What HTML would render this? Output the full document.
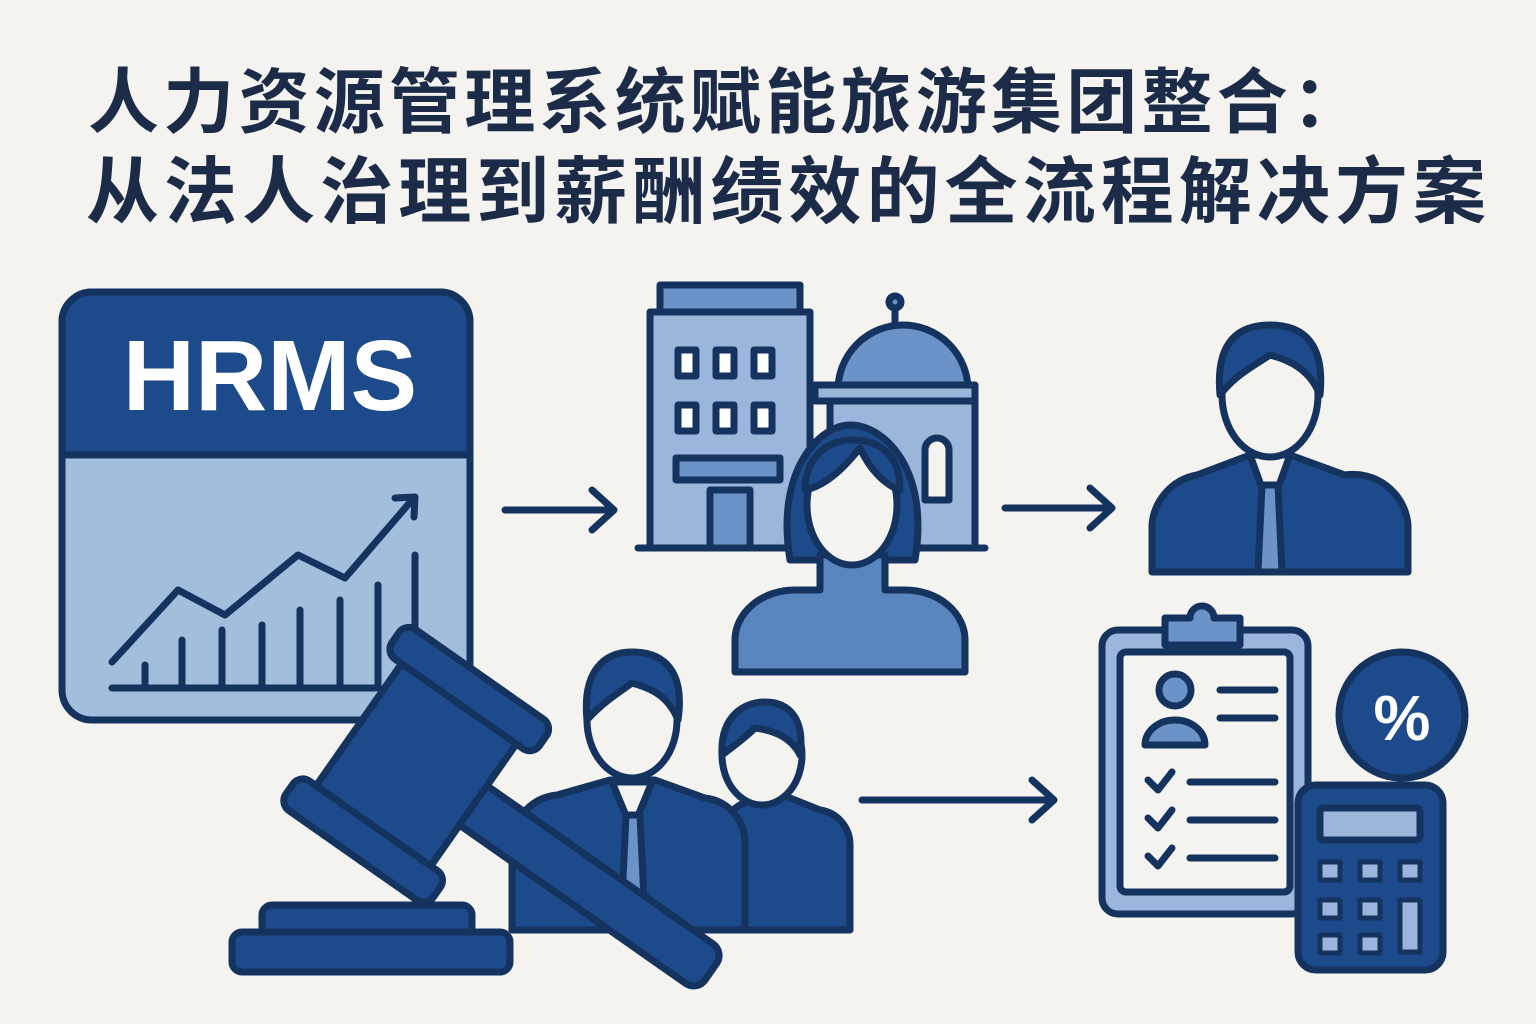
<!DOCTYPE html>
<html><head><meta charset="utf-8"><style>
html,body{margin:0;padding:0;background:#f4f3ef;}
svg{display:block}
text{font-family:"Liberation Sans","Noto Sans CJK SC",sans-serif;}
</style></head><body>
<svg width="1536" height="1024" viewBox="0 0 1536 1024" xmlns="http://www.w3.org/2000/svg">
<rect width="1536" height="1024" fill="#f4f3ef"/>
<text x="88" y="127" font-size="71" font-weight="bold" fill="#1c2b48" style="font-family:'Noto Sans CJK SC',sans-serif" textLength="1275">人力资源管理系统赋能旅游集团整合：</text>
<text x="86" y="217" font-size="73" font-weight="bold" fill="#1c2b48" style="font-family:'Noto Sans CJK SC',sans-serif" textLength="1400">从法人治理到薪酬绩效的全流程解决方案</text>

<g stroke="#15335f" stroke-width="7" stroke-linejoin="round" stroke-linecap="round">
<rect x="62" y="292" width="408" height="428" rx="30" fill="#a3bddc"/>
<path d="M62 455 V322 a30 30 0 0 1 30 -30 H440 a30 30 0 0 1 30 30 V455 Z" fill="#1d4a8a"/>
<path d="M112 662 L178 590 L225 615 L298 555 L345 578 L412 500" fill="none"/>
<path d="M395 498 L415 497 L414 517" fill="none"/>
<path d="M112 688 H375 M145 688 V665 M182 688 V640 M222 688 V630 M262 688 V625 M300 688 V610 M340 688 V600 M378 688 V585 M415 688 V555" fill="none"/>
<path d="M505 510 H612 M592 490 L614 510 L592 530" fill="none"/>
<path d="M1005 508 H1110 M1090 488 L1112 508 L1090 528" fill="none"/>
<path d="M862 800 H1052 M1032 780 L1054 800 L1032 820" fill="none"/>
<rect x="660" y="285" width="140" height="30" fill="#6b93c8"/>
<rect x="650" y="312" width="160" height="236" fill="#9bb6da"/>
<rect x="830" y="395" width="145" height="153" fill="#9bb6da"/>
<path d="M895 322 V305" fill="none"/>
<circle cx="895" cy="302" r="6" fill="#6b93c8"/>
<path d="M838 390 a65 65 0 0 1 130 0 Z" fill="#6b93c8"/>
<rect x="815" y="385" width="160" height="16" fill="#9bb6da"/>
<rect x="678" y="350" width="18" height="26" fill="#fff"/><rect x="716" y="350" width="18" height="26" fill="#fff"/><rect x="754" y="350" width="18" height="26" fill="#fff"/>
<rect x="678" y="405" width="18" height="26" fill="#fff"/><rect x="716" y="405" width="18" height="26" fill="#fff"/><rect x="754" y="405" width="18" height="26" fill="#fff"/>
<rect x="676" y="458" width="104" height="22" fill="#6b93c8"/>
<rect x="710" y="490" width="40" height="58" fill="#6b93c8"/>
<path d="M925 450 a12 12 0 0 1 24 0 V500 H925 Z" fill="#f4f3ef"/>
<path d="M638 548 H985"/>
<!-- woman -->
<path d="M790 560 C775 470 820 425 850 425 C885 425 930 470 915 560 Z" fill="#1d4a8a"/>
<path d="M735 672 V640 a60 50 0 0 1 60 -50 H820 V555 H885 V590 H905 a60 50 0 0 1 60 50 V672 Z" fill="#5a86c0"/>
<ellipse cx="852" cy="505" rx="45" ry="60" fill="#f4f3ef"/>
<path d="M805 490 C830 485 850 460 860 448 C870 470 885 485 900 490 C900 455 880 440 852 440 C825 440 805 460 805 490Z" fill="#1d4a8a"/>
<!-- man top right -->
<path d="M1152 572 V525 a55 55 0 0 1 45 -50 L1250 455 H1290 L1345 475 a55 55 0 0 1 63 50 V572 Z" fill="#1d4a8a"/>
<path d="M1250 455 L1270 510 L1290 455 Z" fill="#f4f3ef"/>
<path d="M1262 485 L1278 485 L1282 572 L1258 572 Z" fill="#6b93c8"/>
<ellipse cx="1270" cy="395" rx="48" ry="62" fill="#f4f3ef"/>
<path d="M1220 395 C1215 340 1240 325 1270 325 C1305 325 1325 345 1320 395 C1310 370 1290 360 1270 355 C1255 365 1235 375 1220 395Z" fill="#1d4a8a"/>
<!-- two men -->
<path d="M720 930 V840 a40 40 0 0 1 35 -40 L770 790 L820 810 a35 35 0 0 1 30 35 V930 Z" fill="#1d4a8a"/>
<ellipse cx="762" cy="755" rx="40" ry="50" fill="#f4f3ef"/>
<path d="M722 755 C720 715 745 702 765 702 C790 702 805 720 800 755 C790 735 770 730 755 728 C745 738 735 745 722 755Z" fill="#1d4a8a"/>
<path d="M512 930 V840 a50 50 0 0 1 45 -45 L610 780 H655 L705 798 a45 45 0 0 1 40 45 V930 Z" fill="#1d4a8a"/>
<path d="M612 782 L632 830 L652 782 Z" fill="#f4f3ef"/>
<path d="M626 815 H640 L644 900 H622 Z" fill="#6b93c8"/>
<ellipse cx="632" cy="720" rx="45" ry="58" fill="#f4f3ef"/>
<path d="M587 720 C582 670 605 652 632 652 C665 652 685 672 678 720 C668 695 650 688 632 683 C615 695 600 705 587 720Z" fill="#1d4a8a"/>
<!-- gavel -->
<rect x="262" y="905" width="210" height="32" rx="10" fill="#1d4a8a"/>
<rect x="232" y="932" width="278" height="40" rx="10" fill="#1d4a8a"/>
<g transform="rotate(35 430 780)">
<rect x="470" y="752" width="300" height="48" rx="14" fill="#1d4a8a"/>
<rect x="340" y="680" width="140" height="190" rx="14" fill="#1d4a8a"/>
<rect x="320" y="665" width="180" height="36" rx="12" fill="#1d4a8a"/>
<rect x="320" y="850" width="180" height="36" rx="12" fill="#1d4a8a"/>
</g>
<!-- clipboard -->
<rect x="1102" y="630" width="206" height="284" rx="16" fill="#9bb6da"/>
<rect x="1120" y="652" width="170" height="240" rx="6" fill="#f4f3ef"/>
<path d="M1165 630 V618 H1190 a12 12 0 0 1 24 0 H1240 V645 H1165Z" fill="#6b93c8"/>
<circle cx="1175" cy="690" r="16" fill="#6b93c8"/>
<path d="M1145 745 a30 25 0 0 1 60 0 Z" fill="#6b93c8"/>
<path d="M1220 690 H1275 M1220 718 H1275 M1190 782 H1275 M1190 820 H1275 M1190 858 H1275 M1148 780 L1158 790 L1172 772 M1148 818 L1158 828 L1172 810 M1148 856 L1158 866 L1172 848" fill="none"/>
<circle cx="1402" cy="715" r="63" fill="#1d4a8a"/>
<rect x="1298" y="785" width="145" height="185" rx="18" fill="#1d4a8a"/>
<rect x="1320" y="808" width="100" height="32" rx="4" fill="#9bb6da"/>
<g fill="#9bb6da" stroke-width="5">
<rect x="1320" y="862" width="20" height="18"/><rect x="1360" y="862" width="20" height="18"/><rect x="1400" y="862" width="20" height="18"/>
<rect x="1320" y="900" width="20" height="18"/><rect x="1360" y="900" width="20" height="18"/><rect x="1400" y="900" width="20" height="52"/>
<rect x="1320" y="935" width="20" height="18"/><rect x="1360" y="935" width="20" height="18"/>
</g>
</g>
<text x="270" y="410" font-size="100" font-weight="bold" fill="#fff" text-anchor="middle">HRMS</text>
<text x="1402" y="740" font-size="64" font-weight="bold" fill="#fff" text-anchor="middle">%</text>
</svg>
</body></html>
